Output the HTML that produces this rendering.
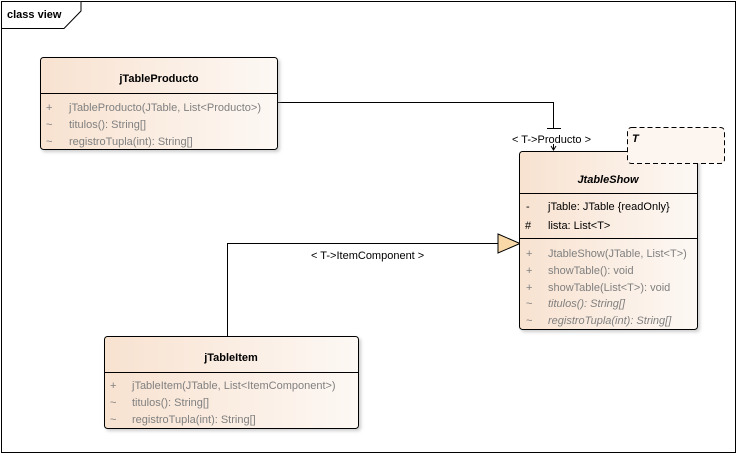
<!DOCTYPE html>
<html><head><meta charset="utf-8"><style>
body{margin:0;background:#fff}
svg{display:block;font-family:"Liberation Sans",sans-serif}
.t{font-size:11px;fill:#000}
.g{font-size:11px;fill:#808080}
.b{font-size:11px;font-weight:bold}
</style></head><body>
<svg width="738" height="455" viewBox="0 0 738 455">
<defs>
<linearGradient id="gr" x1="0" x2="1" y1="0" y2="0">
<stop offset="0" stop-color="#f8e2d0"/><stop offset="1" stop-color="#fdf8f4"/>
</linearGradient>
<filter id="sh"><feDropShadow dx="2" dy="2" stdDeviation="1.5" flood-color="#999" flood-opacity="0.5"/></filter>
</defs>
<rect x="1.5" y="1.5" width="734" height="451" fill="#fff" stroke="#000"/>
<path d="M1.5 28.5 H64 L81 11 V1.5" fill="#fff" stroke="#000"/>
<text x="7" y="18" class="b">class view</text>

<!-- connectors -->
<path d="M277 102.5 H553.5 V128" fill="none" stroke="#000"/>
<path d="M547 128.5 H561" stroke="#000"/>
<path d="M553.5 144 V150 M551 146 L553.5 150 L556 146" fill="none" stroke="#000"/>
<text x="512" y="143" class="t">&lt; T-&gt;Producto &gt;</text>
<path d="M227.5 336 V243.5 H498" fill="none" stroke="#000"/>
<path d="M498 234 L520 243.5 L498 253 Z" fill="#f9d9a8" stroke="#000"/>
<text x="311" y="259" class="t">&lt; T-&gt;ItemComponent &gt;</text>

<!-- jTableProducto -->
<rect x="40.5" y="57.5" width="237" height="92" rx="3" fill="url(#gr)" stroke="#000" filter="url(#sh)"/>
<line x1="40.5" y1="93.5" x2="277.5" y2="93.5" stroke="#000"/>
<text x="159" y="82" class="b" text-anchor="middle">jTableProducto</text>
<text x="46" y="111" class="g">+</text><text x="69" y="111" class="g">jTableProducto(JTable, List&lt;Producto&gt;)</text>
<text x="46" y="128" class="g">~</text><text x="69" y="128" class="g">titulos(): String[]</text>
<text x="46" y="145" class="g">~</text><text x="69" y="145" class="g">registroTupla(int): String[]</text>

<!-- JtableShow -->
<rect x="519.5" y="151.5" width="178" height="178" rx="3" fill="url(#gr)" stroke="#000" filter="url(#sh)"/>
<line x1="519.5" y1="193.5" x2="697.5" y2="193.5" stroke="#000"/>
<line x1="519.5" y1="238.5" x2="697.5" y2="238.5" stroke="#000"/>
<text x="608" y="183" class="b" font-style="italic" text-anchor="middle">JtableShow</text>
<text x="526" y="210" class="t">-</text><text x="548" y="210" class="t">jTable: JTable {readOnly}</text>
<text x="525" y="229" class="t">#</text><text x="548" y="229" class="t">lista: List&lt;T&gt;</text>
<text x="526" y="257" class="g">+</text><text x="548" y="257" class="g">JtableShow(JTable, List&lt;T&gt;)</text>
<text x="526" y="274" class="g">+</text><text x="548" y="274" class="g">showTable(): void</text>
<text x="526" y="291" class="g">+</text><text x="548" y="291" class="g">showTable(List&lt;T&gt;): void</text>
<text x="526" y="307" class="g">~</text><text x="548" y="307" class="g" font-style="italic">titulos(): String[]</text>
<text x="526" y="324" class="g">~</text><text x="548" y="324" class="g" font-style="italic">registroTupla(int): String[]</text>
<rect x="627.5" y="127.5" width="97" height="36" rx="4" fill="#fdf6f0" stroke="#000" stroke-dasharray="5,3"/>
<text x="632" y="142" class="b" font-style="italic">T</text>

<!-- jTableItem -->
<rect x="104.5" y="336.5" width="254" height="92" rx="3" fill="url(#gr)" stroke="#000" filter="url(#sh)"/>
<line x1="104.5" y1="372.5" x2="358.5" y2="372.5" stroke="#000"/>
<text x="231" y="361" class="b" text-anchor="middle">jTableItem</text>
<text x="110" y="389" class="g">+</text><text x="132" y="389" class="g">jTableItem(JTable, List&lt;ItemComponent&gt;)</text>
<text x="110" y="406" class="g">~</text><text x="132" y="406" class="g">titulos(): String[]</text>
<text x="110" y="423" class="g">~</text><text x="132" y="423" class="g">registroTupla(int): String[]</text>
</svg>
</body></html>
